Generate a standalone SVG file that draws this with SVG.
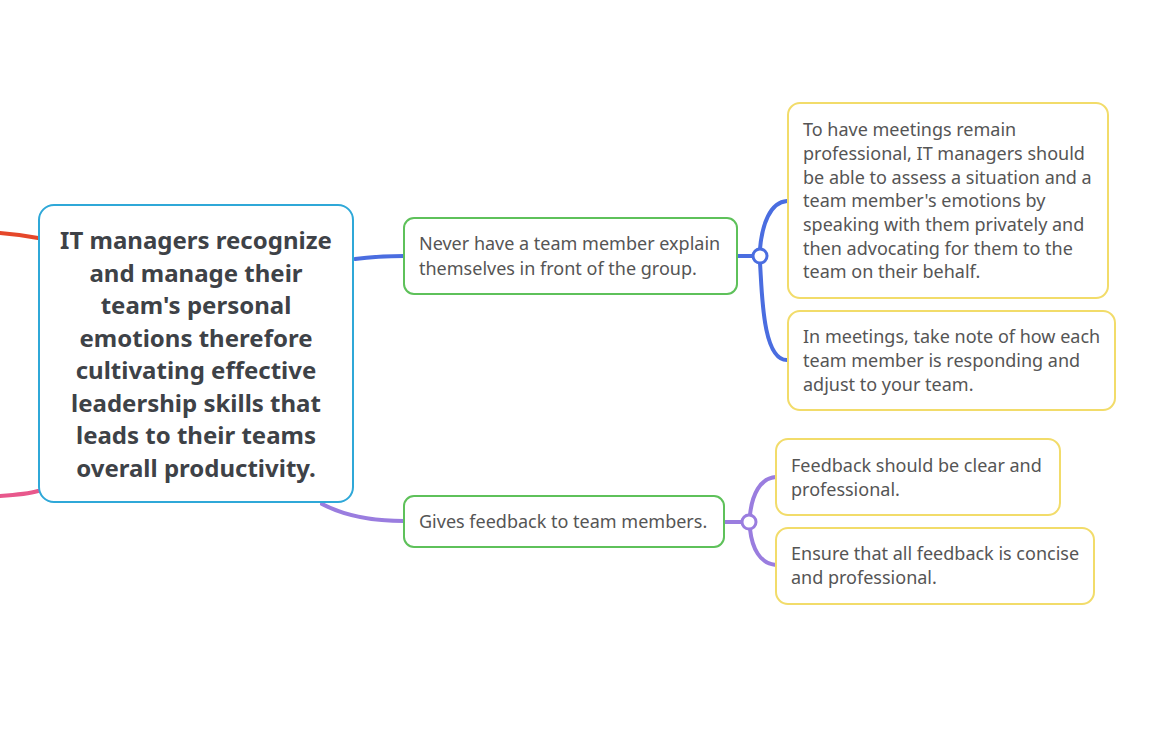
<svg xmlns="http://www.w3.org/2000/svg" width="1165" height="735" viewBox="0 0 1165 735">
<style>
.bg{fill:#ffffff}
.node rect{fill:#ffffff;stroke-width:2}
.root rect{stroke:#2fa8d8}
.g rect{stroke:#5ec15a}
.y rect{stroke:#f2dc6a}
.root text{font-family:"Noto Sans",Lato,sans-serif;font-weight:700;font-size:24px;fill:#3e4247;text-anchor:middle}
.t{font-family:"Noto Sans",Lato,sans-serif;font-size:18px;fill:#555555}
.c{fill:none;stroke-width:4;stroke-linecap:round}
.blue{stroke:#4a6de0}
.purple{stroke:#9a7ddf}
.dot{fill:#ffffff;stroke-width:3}
</style>
<rect class="bg" width="1165" height="735"/>
<g id="connectors">
<path class="c" d="M0,233 C15,234 28,236 38,238" stroke="#e5472a"/>
<path class="c" d="M0,496 C15,495 28,494 38,491" stroke="#e8588c"/>
<path class="c blue" d="M355,259 C370,257 385,256 404,256"/>
<path class="c purple" d="M322,504 C345,516 370,521 404,521"/>
<path class="c blue" d="M738,256 L753,256"/>
<path class="c blue" d="M760,249 C762,225 770,202 787,201"/>
<path class="c blue" d="M760,263 C762,290 762,360 787,360"/>
<path class="c purple" d="M724,522 L743,522"/>
<path class="c purple" d="M750,515 C752,495 760,478 776,477"/>
<path class="c purple" d="M750,529 C752,548 760,564 776,565"/>
<circle class="dot blue" cx="760" cy="256" r="7"/>
<circle class="dot purple" cx="749" cy="522" r="7"/>
</g>
<g id="root" class="node root">
<rect x="39" y="205" width="314" height="297" rx="15"/>
<text x="196" y="249">IT managers recognize</text>
<text x="196" y="281.5">and manage their</text>
<text x="196" y="314">team's personal</text>
<text x="196" y="346.5">emotions therefore</text>
<text x="196" y="379">cultivating effective</text>
<text x="196" y="411.5">leadership skills that</text>
<text x="196" y="444">leads to their teams</text>
<text x="196" y="476.5">overall productivity.</text>
</g>
<g id="n1" class="node g">
<rect x="404" y="218" width="333" height="76" rx="10"/>
<text class="t" x="419" y="250">Never have a team member explain</text>
<text class="t" x="419" y="275">themselves in front of the group.</text>
</g>
<g id="n2" class="node g">
<rect x="404" y="496" width="320" height="51" rx="10"/>
<text class="t" x="419" y="528">Gives feedback to team members.</text>
</g>
<g id="n1a" class="node y">
<rect x="788" y="103" width="320" height="195" rx="12"/>
<text class="t" x="803" y="136">To have meetings remain</text>
<text class="t" x="803" y="160">professional, IT managers should</text>
<text class="t" x="803" y="183.5">be able to assess a situation and a</text>
<text class="t" x="803" y="207">team member's emotions by</text>
<text class="t" x="803" y="231">speaking with them privately and</text>
<text class="t" x="803" y="254.5">then advocating for them to the</text>
<text class="t" x="803" y="278">team on their behalf.</text>
</g>
<g id="n1b" class="node y">
<rect x="788" y="311" width="327" height="99" rx="12"/>
<text class="t" x="803" y="343">In meetings, take note of how each</text>
<text class="t" x="803" y="367">team member is responding and</text>
<text class="t" x="803" y="391">adjust to your team.</text>
</g>
<g id="n2a" class="node y">
<rect x="776" y="439" width="284" height="76" rx="12"/>
<text class="t" x="791" y="472">Feedback should be clear and</text>
<text class="t" x="791" y="496">professional.</text>
</g>
<g id="n2b" class="node y">
<rect x="776" y="528" width="318" height="76" rx="12"/>
<text class="t" x="791" y="560">Ensure that all feedback is concise</text>
<text class="t" x="791" y="584">and professional.</text>
</g>
</svg>
